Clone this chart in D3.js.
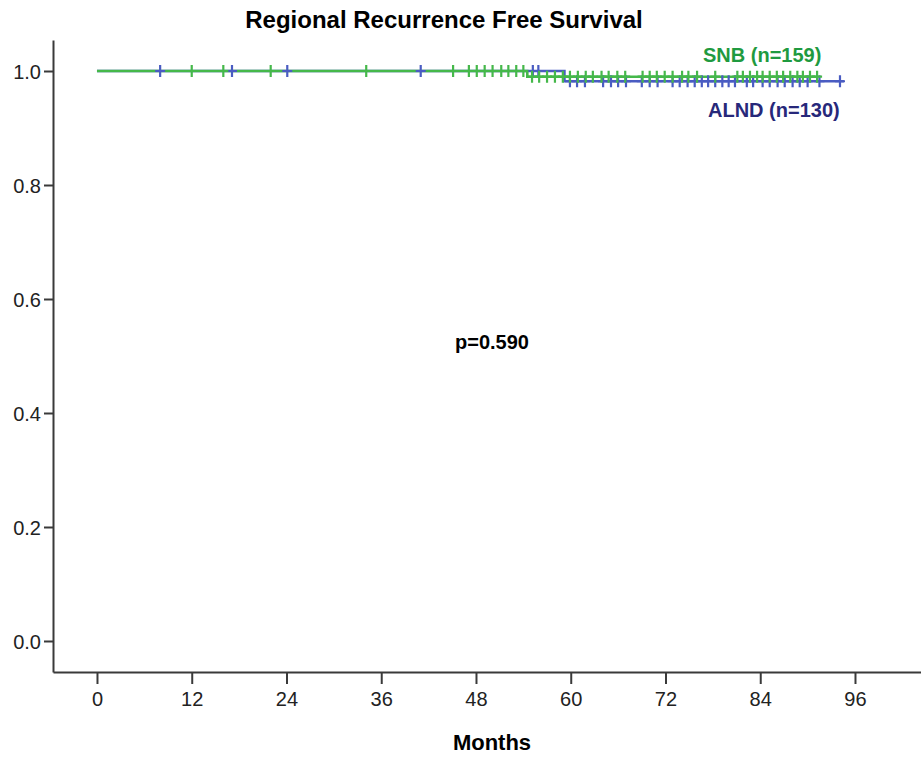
<!DOCTYPE html>
<meta charset="utf-8">
<script src="https://d3js.org/d3.v7.min.js"></script>
<style>
body { margin: 0; background: #fff; }
text { font-family: "Liberation Sans", Arial, sans-serif; }
</style>
<body>
<div id="chart"></div>
<script>
// Kaplan-Meier data (months, survival)
var groups = ["ALND", "SNB"];
var groupLabels = ["ALND (n=130)", "SNB (n=159)"];

var alndEventTimes = [59.2];
var alndEventSurv = [0.982];
var alndEnd = 94.6;
var alndCensored = [8.0, 17.1, 24.1, 41.0, 55.2, 55.9,
  59.9, 60.8, 61.8, 64.1, 65.1, 66.0, 67.0, 69.0, 70.0, 71.0, 72.9, 73.8,
  74.8, 75.7, 76.6, 77.4, 78.3, 79.2, 80.0, 80.8, 82.3, 83.1, 84.3, 85.2,
  86.2, 87.1, 88.1, 89.0, 90.0, 91.5, 94.1];

var snbEventTimes = [54.5];
var snbEventSurv = [0.990];
var snbEnd = 91.3;
var snbCensored = [12.0, 16.0, 22.0, 34.1, 45.1, 47.1, 48.1, 49.1, 50.1,
  51.2, 52.1, 53.1, 54.0,
  55.1, 56.0, 57.0, 58.0, 59.0, 59.9, 60.9, 61.9, 62.8, 63.9, 64.8, 65.9,
  66.9, 69.1, 70.0, 70.9, 71.9, 72.9, 74.1, 74.9, 76.0, 78.3, 81.1, 81.8,
  82.7, 83.6, 84.3, 85.2, 86.1, 86.9, 87.8, 88.7, 89.4, 90.3, 91.2];

var xTicks = [0, 12, 24, 36, 48, 60, 72, 84, 96];
var yTicks = [0, 0.2, 0.4, 0.6, 0.8, 1.0];

var width = 921, height = 760;

var svg = d3.select("#chart").append("svg")
  .attr("width", width)
  .attr("height", height);

var x = d3.scaleLinear().domain([-5.57, 104.36]).range([53, 921]);
var y = d3.scaleLinear().domain([-0.0544, 1.0544]).range([672, 40]);

var lineColor = {ALND: "#4a5cc2", SNB: "#45b84a"};
var textColor = {ALND: "#27287a", SNB: "#1f9a40"};

// step function helpers
function survAt(times, surv, t) {
  var s = 1;
  for (var i = 0; i < times.length; i++) if (t >= times[i]) s = surv[i];
  return s;
}
function kmPoints(times, surv, end) {
  var pts = [[0, 1]];
  times.forEach(function(t, i) { pts.push([t, surv[i]]); });
  pts.push([end, surv[surv.length - 1]]);
  return pts;
}

var series = [
  {key: "ALND", pts: kmPoints(alndEventTimes, alndEventSurv, alndEnd),
   cens: alndCensored.map(function(t) { return [t, survAt(alndEventTimes, alndEventSurv, t)]; })},
  {key: "SNB", pts: kmPoints(snbEventTimes, snbEventSurv, snbEnd),
   cens: snbCensored.map(function(t) { return [t, survAt(snbEventTimes, snbEventSurv, t)]; })}
];

// axes
var xAxis = svg.append("g")
  .attr("transform", "translate(0,672)")
  .call(d3.axisBottom(x).tickValues(xTicks).tickSize(12).tickSizeOuter(0).tickPadding(8));
var yAxis = svg.append("g")
  .attr("transform", "translate(53,0)")
  .call(d3.axisLeft(y).tickValues(yTicks).tickSize(9).tickSizeOuter(0).tickPadding(3)
    .tickFormat(d3.format(".1f")));

[xAxis, yAxis].forEach(function(a) {
  a.select(".domain").attr("stroke", "#3a3a3a").attr("stroke-width", 2);
  a.selectAll(".tick line").attr("stroke", "#3a3a3a").attr("stroke-width", 2);
  a.selectAll(".tick text").attr("fill", "#222").style("font-size", "20px")
    .style("font-family", "'Liberation Sans', Arial, sans-serif");
});
yAxis.selectAll(".tick text").attr("dy", "0.36em");

// curves
var line = d3.line()
  .x(function(d) { return x(d[0]); })
  .y(function(d) { return y(d[1]); })
  .curve(d3.curveStepAfter);

series.forEach(function(s) {
  svg.append("path")
    .datum(s.pts)
    .attr("d", line)
    .attr("fill", "none")
    .attr("stroke", lineColor[s.key])
    .attr("stroke-width", 2.6);
});

// censor marks
series.forEach(function(s) {
  svg.append("g").selectAll("path")
    .data(s.cens)
    .enter().append("path")
      .attr("d", function(d) {
        var cx = x(d[0]), cy = y(d[1]);
        return "M" + (cx - 5) + "," + cy + "H" + (cx + 5) + "M" + cx + "," + (cy - 6) + "V" + (cy + 6);
      })
      .attr("stroke", lineColor[s.key])
      .attr("stroke-width", 2.2)
      .attr("fill", "none");
});

// labels
svg.append("text")
  .attr("x", 444).attr("y", 28)
  .attr("text-anchor", "middle")
  .style("font-size", "24px").style("font-weight", "bold")
  .text("Regional Recurrence Free Survival");

svg.append("text")
  .attr("x", 492).attr("y", 750)
  .attr("text-anchor", "middle")
  .style("font-size", "22px").style("font-weight", "bold")
  .text("Months");

svg.append("text")
  .attr("x", 492).attr("y", 349)
  .attr("text-anchor", "middle")
  .style("font-size", "20px").style("font-weight", "bold")
  .text("p=0.590");

svg.append("text")
  .attr("x", 703).attr("y", 62)
  .attr("fill", textColor.SNB)
  .style("font-size", "20px").style("font-weight", "bold")
  .text(groupLabels[1]);

svg.append("text")
  .attr("x", 708).attr("y", 117)
  .attr("fill", textColor.ALND)
  .style("font-size", "20px").style("font-weight", "bold")
  .text(groupLabels[0]);
</script>
</body>
